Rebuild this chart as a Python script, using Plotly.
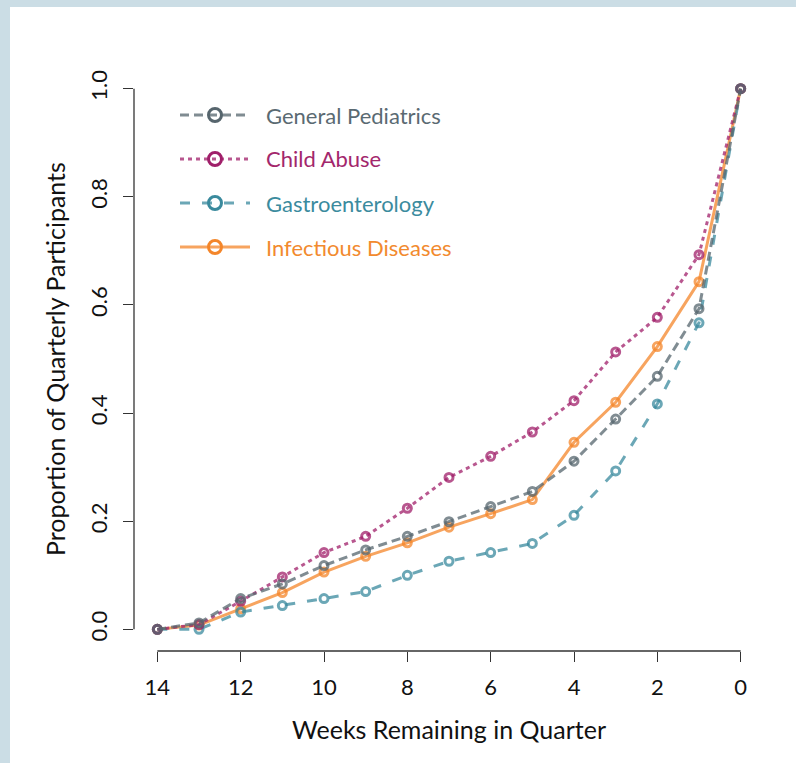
import plotly.graph_objects as go

# ---- data ----
weeks = [14, 13, 12, 11, 10, 9, 8, 7, 6, 5, 4, 3, 2, 1, 0]
general_pediatrics = [0.0, 0.012, 0.057, 0.084, 0.118, 0.147, 0.172, 0.199, 0.227, 0.255, 0.311, 0.389, 0.468, 0.593, 1.0]
child_abuse = [0.0, 0.009, 0.052, 0.097, 0.142, 0.172, 0.224, 0.281, 0.320, 0.365, 0.423, 0.513, 0.577, 0.693, 1.0]
gastroenterology = [0.0, 0.0, 0.032, 0.044, 0.057, 0.070, 0.100, 0.126, 0.142, 0.159, 0.211, 0.293, 0.417, 0.567, 1.0]
infectious_diseases = [0.0, 0.008, 0.038, 0.068, 0.106, 0.135, 0.160, 0.189, 0.214, 0.240, 0.346, 0.420, 0.523, 0.643, 1.0]

series_names = ["General Pediatrics", "Child Abuse", "Gastroenterology", "Infectious Diseases"]
series_values = [general_pediatrics, child_abuse, gastroenterology, infectious_diseases]
x_ticks = [14, 12, 10, 8, 6, 4, 2, 0]
y_ticks = [0.0, 0.2, 0.4, 0.6, 0.8, 1.0]
y_tick_labels = ["0.0", "0.2", "0.4", "0.6", "0.8", "1.0"]

# ---- styles ----
base_rgb = [(86, 101, 109), (160, 31, 106), (58, 138, 157), (244, 134, 42)]
text_colors = ["#5a6a72", "#a3276c", "#3b8b9e", "#f28a2e"]
dashes = ["9px,5px", "4px,4px", "10px,12px", "solid"]
ALPHA = 0.75

def rgba(c, a):
    return f"rgba({c[0]},{c[1]},{c[2]},{a})"

FONT = "Lato"
fig = go.Figure()

# draw order: orange, teal, magenta, gray (gray on top)
for i in [3, 2, 1, 0]:
    fig.add_trace(go.Scatter(
        x=weeks, y=series_values[i], name=series_names[i],
        mode="lines+markers",
        line=dict(color=rgba(base_rgb[i], ALPHA), width=3, dash=dashes[i]),
        marker=dict(symbol="circle-open", size=8,
                    line=dict(color=rgba(base_rgb[i], ALPHA), width=3),
                    color=rgba(base_rgb[i], ALPHA)),
        cliponaxis=False, showlegend=False, hoverinfo="skip",
    ))

shapes = []
annotations = []

# page border strips (left & top)
strip = "#cbdde5"
shapes.append(dict(type="rect", xref="paper", yref="paper", xsizemode="pixel", ysizemode="pixel",
                   xanchor=0, yanchor=1, x0=-134, x1=-124, y0=67, y1=-700,
                   fillcolor=strip, line=dict(width=0), layer="above"))
shapes.append(dict(type="rect", xref="paper", yref="paper", xsizemode="pixel", ysizemode="pixel",
                   xanchor=0, yanchor=1, x0=-134, x1=700, y0=67, y1=60,
                   fillcolor=strip, line=dict(width=0), layer="above"))

# R-style axis lines spanning first to last tick
axis_col = "#333333"
shapes.append(dict(type="line", xref="paper", yref="paper", x0=1/27, x1=26/27, y0=0, y1=0,
                   line=dict(color=axis_col, width=1.3)))
shapes.append(dict(type="line", xref="paper", yref="paper", x0=0, x1=0, y0=1/27, y1=26/27,
                   line=dict(color=axis_col, width=1.3)))

# manual legend
leg_x = (215 - 134) / 630
text_x = (264 - 134) / 630
leg_rows_px = [115, 159, 203, 247]
for i, ypx in enumerate(leg_rows_px):
    yp = (651 - ypx) / 584
    shapes.append(dict(type="line", xref="paper", yref="paper", xsizemode="pixel", ysizemode="pixel",
                       xanchor=leg_x, yanchor=yp, x0=-35, x1=35, y0=0, y1=0,
                       line=dict(color=rgba(base_rgb[i], ALPHA), width=3, dash=dashes[i])))
    shapes.append(dict(type="circle", xref="paper", yref="paper", xsizemode="pixel", ysizemode="pixel",
                       xanchor=leg_x, yanchor=yp, x0=-6.5, x1=6.5, y0=-6.5, y1=6.5,
                       line=dict(color=rgba(base_rgb[i], 1), width=3), fillcolor="rgba(0,0,0,0)"))
    annotations.append(dict(text=series_names[i], xref="paper", yref="paper", x=text_x, y=yp,
                            xanchor="left", yanchor="middle", showarrow=False,
                            font=dict(family=FONT, size=22, color=text_colors[i])))

# axis titles
annotations.append(dict(text="Weeks Remaining in Quarter", xref="paper", yref="paper",
                        x=0.5, y=(651 - 729) / 584, xanchor="center", yanchor="middle",
                        showarrow=False, font=dict(family=FONT, size=25, color="#111111")))
annotations.append(dict(text="Proportion of Quarterly Participants", xref="paper", yref="paper",
                        x=(55 - 134) / 630, y=0.5, xanchor="center", yanchor="middle", textangle=-90,
                        showarrow=False, font=dict(family=FONT, size=25, color="#111111")))

fig.update_layout(
    width=796, height=763,
    margin=dict(l=134, r=32, t=67, b=112),
    paper_bgcolor="white", plot_bgcolor="white",
    showlegend=False, hovermode=False,
    shapes=shapes, annotations=annotations,
    xaxis=dict(range=[14.56, -0.56], tickmode="array", tickvals=x_ticks,
               ticktext=[str(v) for v in x_ticks],
               showgrid=False, zeroline=False, showline=False,
               ticks="outside", ticklen=10, tickwidth=1.3, tickcolor=axis_col,
               ticklabelstandoff=7,
               tickfont=dict(family=FONT, size=22, color="#111111")),
    yaxis=dict(range=[-0.04, 1.04], tickmode="array", tickvals=y_ticks, ticktext=y_tick_labels,
               showgrid=False, zeroline=False, showline=False,
               ticks="outside", ticklen=10, tickwidth=1.3, tickcolor=axis_col,
               tickangle=-90, ticklabelstandoff=7,
               tickfont=dict(family=FONT, size=22, color="#111111")),
)

fig.write_html("out.html", config={"displayModeBar": False},
               post_script="document.body.style.margin='0';")
